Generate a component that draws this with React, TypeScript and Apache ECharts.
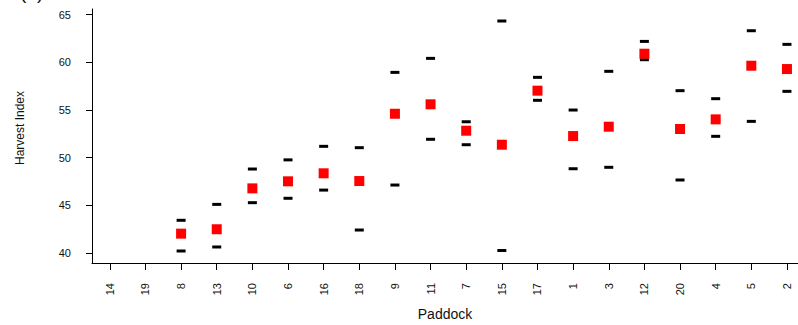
import React, { useEffect, useRef } from "react";
import * as echarts from "echarts";

const categories = ["14", "19", "8", "13", "10", "6", "16", "18", "9", "11", "7", "15", "17", "1", "3", "12", "20", "4", "5", "2"];
const meanValues: (number | null)[] = [null, null, 42.03, 42.49, 46.78, 47.52, 48.36, 47.55, 54.61, 55.6, 52.83, 51.36, 57.03, 52.27, 53.25, 60.91, 53.01, 54.02, 59.65, 59.3];
const upperValues: (number | null)[] = [null, null, 43.43, 45.1, 48.81, 49.77, 51.19, 51.05, 58.95, 60.42, 53.77, 64.34, 58.43, 55.0, 59.06, 62.2, 57.03, 56.19, 63.32, 61.89];
const lowerValues: (number | null)[] = [null, null, 40.21, 40.63, 45.28, 45.74, 46.6, 42.41, 47.13, 51.93, 51.36, 40.26, 56.02, 48.84, 48.99, 60.28, 47.66, 52.24, 53.81, 56.96];
const yTicks = [40, 45, 50, 55, 60, 65];

const FONT = "'Liberation Sans', Arial, sans-serif";

function toPoints(vals: (number | null)[]) {
  const out: [number, number][] = [];
  vals.forEach((v, i) => {
    if (v !== null) out.push([i, v]);
  });
  return out;
}

export default function App() {
  const ref = useRef<HTMLDivElement>(null);
  useEffect(() => {
    if (!ref.current) return;
    const chart = echarts.init(ref.current, null, { renderer: "svg" });
    const idx = categories.map((_, i) => i);
    chart.setOption({
      animation: false,
      backgroundColor: "#fff",
      grid: { left: 92, right: 0, top: 9, bottom: 62, containLabel: false, outerBoundsMode: "none" },
      xAxis: {
        type: "value",
        min: -0.5,
        max: 19.31,
        splitLine: { show: false },
        axisLine: { show: true, onZero: false, lineStyle: { color: "#000", width: 1 } },
        axisTick: { show: true, length: 7, customValues: idx, lineStyle: { color: "#000" } },
        axisLabel: {
          customValues: idx,
          rotate: 90,
          margin: 20,
          fontSize: 11,
          fontFamily: FONT,
          color: "#111",
          formatter: (v: number) => categories[Math.round(v)] ?? "",
        },
        name: "Paddock",
        nameLocation: "middle",
        nameGap: 44,
        nameTextStyle: { fontSize: 14, fontFamily: FONT, color: "#111" },
      },
      yAxis: {
        type: "value",
        min: 38.95,
        max: 65.6,
        splitLine: { show: false },
        axisLine: { show: true, onZero: false, lineStyle: { color: "#000", width: 1 } },
        axisTick: { show: true, length: 6, customValues: yTicks, lineStyle: { color: "#000" } },
        axisLabel: {
          customValues: yTicks,
          margin: 21,
          fontSize: 11,
          fontFamily: FONT,
          color: "#111",
        },
      },
      graphic: [
        {
          type: "text",
          x: 20,
          y: 128,
          rotation: Math.PI / 2,
          style: {
            text: "Harvest Index",
            fontSize: 12,
            fontFamily: FONT,
            fill: "#111",
            align: "center",
            verticalAlign: "middle",
          },
        },
        {
          type: "text",
          x: 20,
          y: 2,
          style: {
            text: "(b)",
            fontSize: 19,
            fontFamily: FONT,
            fill: "#111",
            align: "left",
            verticalAlign: "bottom",
          },
        },
      ],
      series: [
        {
          type: "scatter",
          name: "upper",
          data: toPoints(upperValues),
          symbol: "rect",
          symbolSize: [9, 3],
          itemStyle: { color: "#000", opacity: 1 },
        },
        {
          type: "scatter",
          name: "lower",
          data: toPoints(lowerValues),
          symbol: "rect",
          symbolSize: [9, 3],
          itemStyle: { color: "#000", opacity: 1 },
        },
        {
          type: "scatter",
          name: "mean",
          data: toPoints(meanValues),
          symbol: "rect",
          symbolSize: 10,
          itemStyle: { color: "#ff0000", opacity: 1 },
          z: 3,
        },
      ],
    });
    return () => chart.dispose();
  }, []);
  return (
    <div
      ref={ref}
      style={{ position: "absolute", left: 0, top: 0, width: 798, height: 325 }}
    />
  );
}
